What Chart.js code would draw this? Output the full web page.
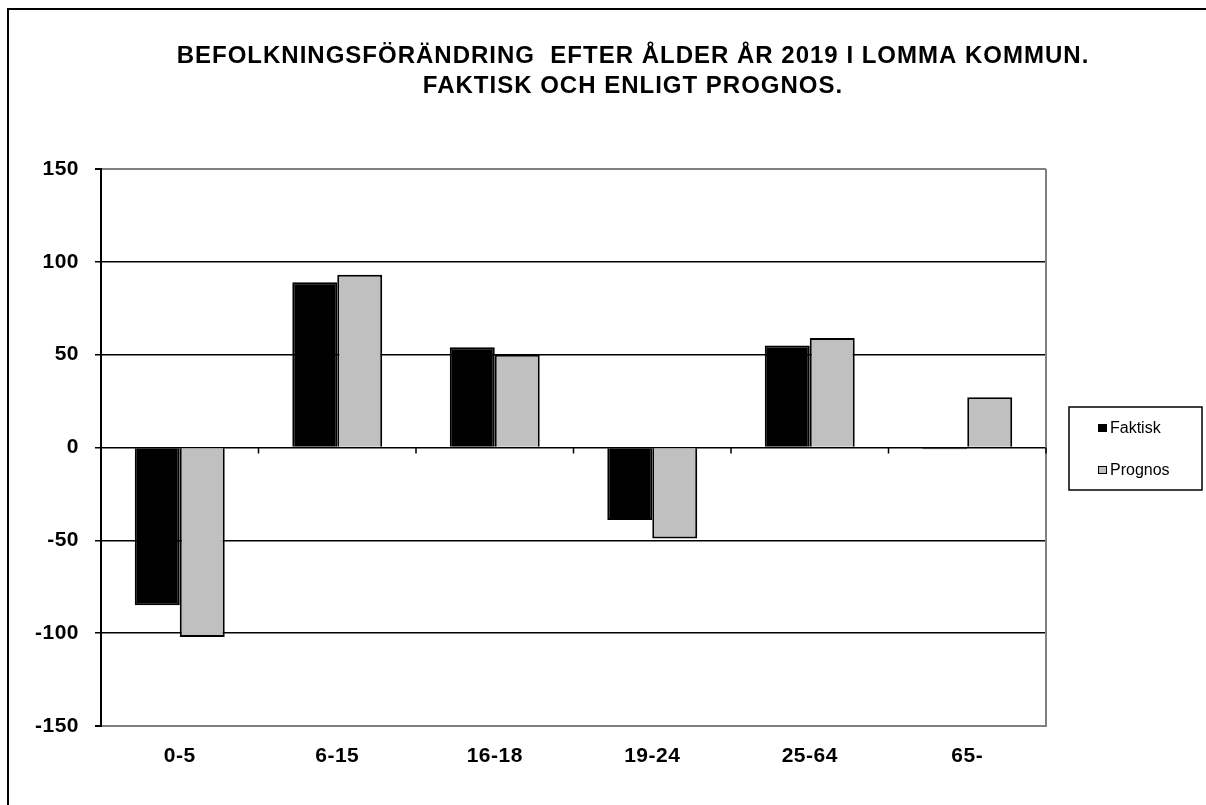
<!DOCTYPE html>
<html>
<head>
<meta charset="utf-8">
<script src="https://cdn.jsdelivr.net/npm/chart.js@4.4.1/dist/chart.umd.min.js"></script>
<style>
    body { margin: 0; background: #fff; overflow: hidden; }
    #wrap { width: 1206px; height: 805px; position: relative; }
</style>
</head>
<body>
<div id="wrap"><canvas id="befolkning-chart"></canvas></div>
<script>
var categories = ['0-5', '6-15', '16-18', '19-24', '25-64', '65-'];
var faktisk = [-85, 89, 54, -39, 55, -1];
var prognos = [-102, 93, 50, -49, 59, 27];
var titleLines = ['BEFOLKNINGSFÖRÄNDRING  EFTER ÅLDER ÅR 2019 I LOMMA KOMMUN.', 'FAKTISK OCH ENLIGT PROGNOS.'];
var yTicks = [-150, -100, -50, 0, 50, 100, 150];

// frame, title, legend and the small ticks on the zero line
var extras = {
    id: 'extras',
    beforeDraw: function(chart) {
        chart.ctx.letterSpacing = '0.5px';
    },
    afterDraw: function(chart) {
        var ctx = chart.ctx;
        var area = chart.chartArea;
        ctx.save();

        // outer frame (runs off the picture right and bottom)
        ctx.letterSpacing = '0px';
        ctx.strokeStyle = '#000';
        ctx.lineWidth = 2;
        ctx.strokeRect(8, 9, 1230, 900);

        // right side of plot area
        ctx.strokeStyle = '#808080';
        ctx.lineWidth = 2;
        ctx.beginPath();
        ctx.moveTo(area.right, area.top);
        ctx.lineTo(area.right, area.bottom);
        ctx.stroke();

        // tick marks at the zero line between categories
        var y0 = chart.scales.y.getPixelForValue(0);
        var step = (area.right - area.left) / categories.length;
        ctx.strokeStyle = '#000';
        ctx.lineWidth = 1.5;
        for (var i = 1; i <= categories.length; i++) {
            var x = area.left + step * i;
            ctx.beginPath();
            ctx.moveTo(x, y0);
            ctx.lineTo(x, y0 + 6);
            ctx.stroke();
        }

        // title
        ctx.letterSpacing = '1px';
        ctx.fillStyle = '#000';
        ctx.font = 'bold 24px "Liberation Sans", Arial, sans-serif';
        ctx.textAlign = 'center';
        ctx.textBaseline = 'alphabetic';
        ctx.fillText(titleLines[0], 633, 63);
        ctx.fillText(titleLines[1], 633, 93);

        // legend box
        ctx.letterSpacing = '0px';
        ctx.strokeStyle = '#000';
        ctx.lineWidth = 1.5;
        ctx.strokeRect(1069, 407, 133, 83);
        ctx.font = '16px "Liberation Sans", Arial, sans-serif';
        ctx.textAlign = 'left';
        var ds = chart.data.datasets;
        var rows = [433, 475];
        for (var j = 0; j < ds.length; j++) {
            ctx.fillStyle = ds[j].backgroundColor;
            ctx.fillRect(1098, rows[j] - 9, 9, 8);
            ctx.lineWidth = 1;
            ctx.strokeStyle = '#000';
            ctx.strokeRect(1098.5, rows[j] - 8.5, 8, 7);
            ctx.fillStyle = '#000';
            ctx.fillText(ds[j].label, 1110, rows[j]);
        }
        ctx.restore();
    }
};

var ctx = document.getElementById('befolkning-chart').getContext('2d');
var chart = new Chart(ctx, {
    type: 'bar',
    data: {
        labels: categories,
        datasets: [{
            label: 'Faktisk',
            data: faktisk,
            backgroundColor: '#000000',
            borderColor: '#000000',
            borderWidth: 2
        }, {
            label: 'Prognos',
            data: prognos,
            backgroundColor: '#c0c0c0',
            borderColor: '#000000',
            borderWidth: 2
        }]
    },
    plugins: [extras],
    options: {
        responsive: true,
        maintainAspectRatio: false,
        animation: false,
        layout: {
            padding: { left: 0, top: 169, right: 160, bottom: 0 }
        },
        datasets: {
            bar: { categoryPercentage: 0.571, barPercentage: 1 }
        },
        plugins: {
            legend: { display: false },
            title: { display: false },
            tooltip: { enabled: false }
        },
        scales: {
            x: {
                grid: { display: false, drawTicks: false },
                border: { color: '#808080', width: 2 },
                ticks: {
                    color: '#000',
                    padding: 18,
                    font: { family: '"Liberation Sans", Arial, sans-serif', size: 21, weight: 'bold' }
                },
                afterFit: function(scale) { scale.height = 79; }
            },
            y: {
                min: -150,
                max: 150,
                afterBuildTicks: function(scale) {
                    scale.ticks = yTicks.map(function(v) { return { value: v }; });
                },
                grid: {
                    color: function(c) {
                        return (c.tick && Math.abs(c.tick.value) === 150) ? '#808080' : '#000000';
                    },
                    lineWidth: function(c) {
                        return (c.tick && Math.abs(c.tick.value) === 150) ? 2 : 1.5;
                    },
                    tickLength: 6,
                    tickColor: '#000'
                },
                border: { color: '#000', width: 2 },
                ticks: {
                    color: '#000',
                    padding: 16,
                    font: { family: '"Liberation Sans", Arial, sans-serif', size: 21, weight: 'bold' }
                },
                afterFit: function(scale) { scale.width = 101; }
            }
        }
    }
});
</script>
</body>
</html>
